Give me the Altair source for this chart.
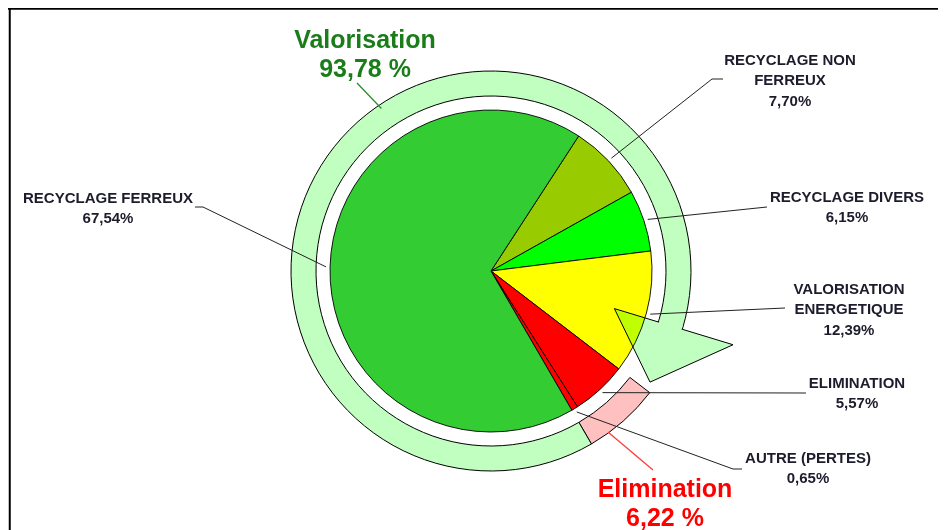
import math
import altair as alt
import pandas as pd

# ---------------- data ----------------
categories = ["RECYCLAGE NON FERREUX", "RECYCLAGE DIVERS", "VALORISATION ENERGETIQUE",
              "ELIMINATION", "AUTRE (PERTES)", "RECYCLAGE FERREUX"]
values = [7.70, 6.15, 12.39, 5.57, 0.65, 67.54]
value_labels = ["7,70%", "6,15%", "12,39%", "5,57%", "0,65%", "67,54%"]
name_lines = [["RECYCLAGE NON", "FERREUX"], ["RECYCLAGE DIVERS"], ["VALORISATION", "ENERGETIQUE"],
              ["ELIMINATION"], ["AUTRE (PERTES)"], ["RECYCLAGE FERREUX"]]

group_names = ["Elimination", "Valorisation"]
group_values = [6.22, 93.78]
group_value_labels = ["6,22 %", "93,78 %"]

# ---------------- style / layout ----------------
slice_colors = ["#99cc00", "#00ff00", "#ffff00", "#ff0000", "#ff0000", "#33cc33"]
group_fill = {"Elimination": "#ffc0c0", "Valorisation": "#c0ffc0"}
group_text_color = {"Elimination": "#ff0000", "Valorisation": "#1a7d1a"}
group_line_color = {"Elimination": "#ff3b3b", "Valorisation": "#2e8b2e"}

PAGE = 8
W, H = 930, 522
CX, CY = 491, 271
R_PIE = 161
R_RING_IN, R_RING_OUT = 175, 200
START_DEG = 33.0
LEADER_R = 165
ARROW_LEN_PCT = 5.0
ARROW_GAP_PCT = 0.7
ARROW_R_IN, ARROW_R_OUT, ARROW_R_TIP = 129, 253, 194
FONT = "Liberation Sans"

label_anchor = {
    "RECYCLAGE NON FERREUX": (790, 65),
    "RECYCLAGE DIVERS": (847, 202),
    "VALORISATION ENERGETIQUE": (849, 294),
    "ELIMINATION": (857, 388),
    "AUTRE (PERTES)": (808, 463),
    "RECYCLAGE FERREUX": (108, 203),
}
LABEL_LH = 20.3
leader_label_pts = {
    "RECYCLAGE NON FERREUX": [(723, 79), (712, 79)],
    "RECYCLAGE DIVERS": [(767, 207)],
    "VALORISATION ENERGETIQUE": [(785, 308)],
    "ELIMINATION": [(806, 393)],
    "AUTRE (PERTES)": [(742, 469), (733, 469)],
    "RECYCLAGE FERREUX": [(195, 207), (203, 207)],
}
group_anchor = {"Valorisation": (365, 48), "Elimination": (665, 497)}
GROUP_LH = 28.5
group_leader = {  # label-side point, ring-side angle (deg), ring-side radius
    "Valorisation": ((357, 83), 326.0, 196),
    "Elimination": ((653, 470), 144.0, 199),
}

# ---------------- derived ----------------
p0, acc = [], 0.0
for v in values:
    p0.append(acc)
    acc += v
p1 = [a + v for a, v in zip(p0, values)]


def polar(pct, r):
    a = math.radians(START_DEG) + pct / 100.0 * 2 * math.pi
    return CX + r * math.sin(a), CY - r * math.cos(a)


def polar_deg(deg, r):
    a = math.radians(deg)
    return CX + r * math.sin(a), CY - r * math.cos(a)


theta_scale = alt.Scale(domain=[0, 100],
                        range=[math.radians(START_DEG), math.radians(START_DEG) + 2 * math.pi])
xs = alt.Scale(domain=[PAGE, PAGE + W], range=[0, W], nice=False, zero=False)
ys = alt.Scale(domain=[PAGE, PAGE + H], range=[0, H], nice=False, zero=False)
cx_px = alt.value(CX - PAGE)
cy_px = alt.value(CY - PAGE)

pie_df = pd.DataFrame({"category": categories, "value": values, "p0": p0, "p1": p1})

elim_start = p0[categories.index("ELIMINATION")]
g_elim = (elim_start, elim_start + group_values[0])
g_val_end = g_elim[1] + group_values[1]
arrow_tip = g_val_end - ARROW_GAP_PCT
arrow_base = arrow_tip - ARROW_LEN_PCT
ring_df = pd.DataFrame({
    "group": group_names,
    "p0": [g_elim[0], g_elim[1]],
    "p1": [g_elim[1], arrow_base],
})
patch_df = pd.DataFrame({"p0": [arrow_base - 0.3], "p1": [arrow_base + 0.3]})

b_in = polar(arrow_base, ARROW_R_IN)
b_out = polar(arrow_base, ARROW_R_OUT)
tip = polar(arrow_tip, ARROW_R_TIP)
j_out = polar(arrow_base, R_RING_OUT)
j_in = polar(arrow_base, R_RING_IN)
arrow_fill_df = pd.DataFrame({"i": [0, 1, 2, 3],
                              "x": [b_in[0], b_out[0], tip[0], b_in[0]],
                              "y": [b_in[1], b_out[1], tip[1], b_in[1]]})
arrow_line_df = pd.DataFrame({"i": [0, 1, 2, 3, 4],
                              "x": [j_out[0], b_out[0], tip[0], b_in[0], j_in[0]],
                              "y": [j_out[1], b_out[1], tip[1], b_in[1], j_in[1]]})

lead_rows = []
for k, c in enumerate(categories):
    pts = list(leader_label_pts[c]) + [polar((p0[k] + p1[k]) / 2, LEADER_R)]
    for i, (x, y) in enumerate(pts):
        lead_rows.append({"cat": c, "i": i, "x": x, "y": y})
lead_df = pd.DataFrame(lead_rows)

glead_rows = []
for g in group_names:
    (lx, ly), deg, r = group_leader[g]
    rx, ry = polar_deg(deg, r)
    glead_rows += [{"g": g, "i": 0, "x": lx, "y": ly}, {"g": g, "i": 1, "x": rx, "y": ry}]
glead_df = pd.DataFrame(glead_rows)

text_rows = []
for k, c in enumerate(categories):
    x, y = label_anchor[c]
    for j, t in enumerate(name_lines[k] + [value_labels[k]]):
        text_rows.append({"x": x, "y": y + j * LABEL_LH, "text": t})
text_df = pd.DataFrame(text_rows)

gtext_rows = []
for k, g in enumerate(group_names):
    x, y = group_anchor[g]
    for j, t in enumerate([g, group_value_labels[k]]):
        gtext_rows.append({"g": g, "x": x, "y": y + j * GROUP_LH, "text": t})
gtext_df = pd.DataFrame(gtext_rows)

frame_df = pd.DataFrame({"x": [PAGE, 9.75], "x2": [PAGE + W + 8, 9.75],
                         "y": [8.75, 8.75], "y2": [8.75, PAGE + H + 8]})

# ---------------- layers ----------------
pie = alt.Chart(pie_df).mark_arc(radius=R_PIE, stroke="black", strokeWidth=0.9).encode(
    theta=alt.Theta("p0:Q", scale=theta_scale),
    theta2="p1:Q",
    color=alt.Color("category:N", scale=alt.Scale(domain=categories, range=slice_colors), legend=None),
    x=cx_px, y=cy_px,
)

arrow_fill = alt.Chart(arrow_fill_df).mark_line(
    filled=True, fill="#c0ffc0", strokeWidth=0, blend="multiply").encode(
    x=alt.X("x:Q", scale=xs, axis=None),
    y=alt.Y("y:Q", scale=ys, axis=None),
    order="i:Q",
)

ring = alt.Chart(ring_df).mark_arc(radius=R_RING_OUT, radius2=R_RING_IN, stroke="black",
                                   strokeWidth=1).encode(
    theta=alt.Theta("p0:Q", scale=theta_scale),
    theta2="p1:Q",
    fill=alt.Fill("group:N", scale=alt.Scale(domain=list(group_fill.keys()),
                                             range=list(group_fill.values())), legend=None),
    x=cx_px, y=cy_px,
)

patch = alt.Chart(patch_df).mark_arc(radius=R_RING_OUT - 0.7, radius2=R_RING_IN + 0.7,
                                     fill="#c0ffc0", strokeWidth=0).encode(
    theta=alt.Theta("p0:Q", scale=theta_scale),
    theta2="p1:Q",
    x=cx_px, y=cy_px,
)

arrow_line = alt.Chart(arrow_line_df).mark_line(color="black", strokeWidth=1).encode(
    x=alt.X("x:Q", scale=xs, axis=None),
    y=alt.Y("y:Q", scale=ys, axis=None),
    order="i:Q",
)

leaders = alt.Chart(lead_df).mark_line(color="#222222", strokeWidth=1).encode(
    x=alt.X("x:Q", scale=xs, axis=None),
    y=alt.Y("y:Q", scale=ys, axis=None),
    detail="cat:N",
    order="i:Q",
)

gleaders = alt.Chart(glead_df).mark_line(strokeWidth=1.3).encode(
    x=alt.X("x:Q", scale=xs, axis=None),
    y=alt.Y("y:Q", scale=ys, axis=None),
    stroke=alt.Stroke("g:N", scale=alt.Scale(domain=list(group_line_color.keys()),
                                             range=list(group_line_color.values())), legend=None),
    detail="g:N",
    order="i:Q",
)

labels = alt.Chart(text_df).mark_text(font=FONT, fontSize=15, fontWeight="bold",
                                      align="center", baseline="alphabetic",
                                      color="#1c1c2c").encode(
    x=alt.X("x:Q", scale=xs, axis=None),
    y=alt.Y("y:Q", scale=ys, axis=None),
    text="text:N",
)

glabels = alt.Chart(gtext_df).mark_text(font=FONT, fontSize=25, fontWeight="bold",
                                        align="center", baseline="alphabetic").encode(
    x=alt.X("x:Q", scale=xs, axis=None),
    y=alt.Y("y:Q", scale=ys, axis=None),
    text="text:N",
    color=alt.Color("g:N", scale=alt.Scale(domain=list(group_text_color.keys()),
                                           range=list(group_text_color.values())), legend=None),
)

frame = alt.Chart(frame_df).mark_rule(color="black", strokeWidth=2).encode(
    x=alt.X("x:Q", scale=xs, axis=None), x2="x2:Q",
    y=alt.Y("y:Q", scale=ys, axis=None), y2="y2:Q",
)

chart = alt.layer(pie, arrow_fill, ring, patch, arrow_line, leaders, gleaders,
                  labels, glabels, frame).resolve_scale(color="independent").properties(
    width=W, height=H,
    autosize=alt.AutoSizeParams(type="none"),
    padding=0,
    background="white",
).configure_view(stroke=None)

chart.save("out.html", embed_options={"renderer": "svg", "actions": False})
